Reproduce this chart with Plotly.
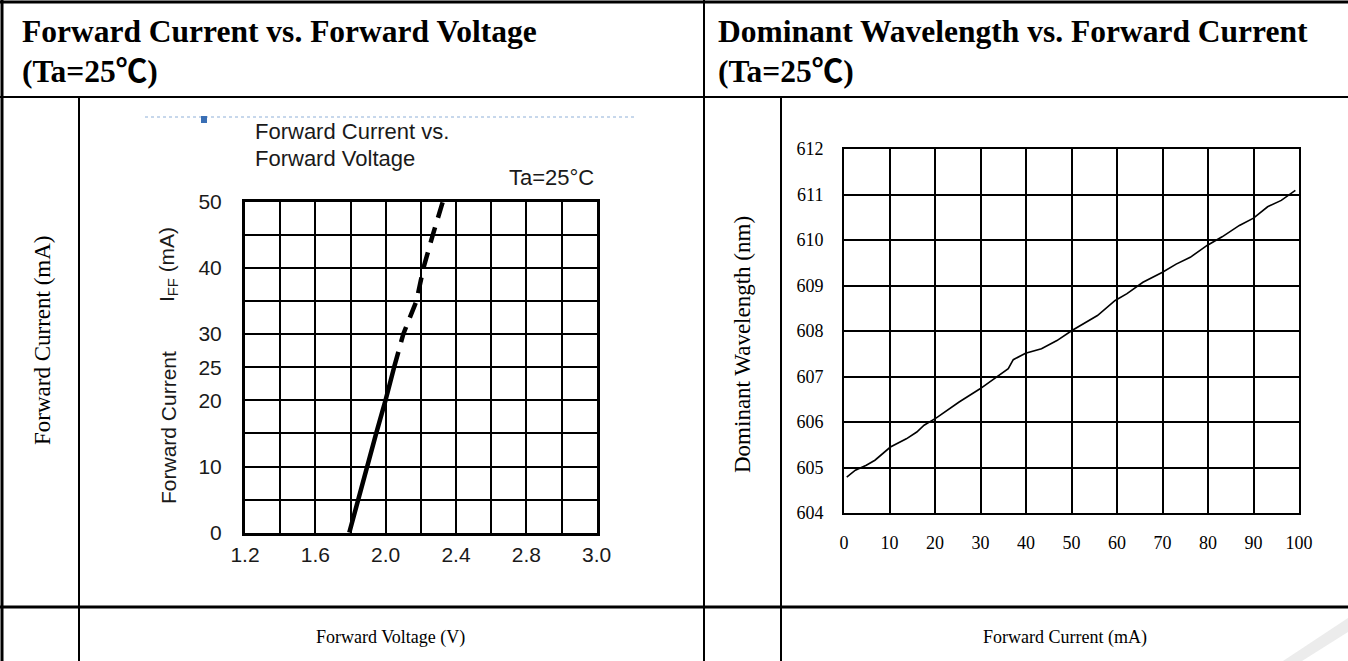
import plotly.graph_objects as go

W, H = 1348, 661

# ---------------- data ----------------
# Left chart: Forward Current vs Forward Voltage
iv_voltage_solid = [1.793, 1.842, 1.892, 1.946, 1.999, 2.048]
iv_current_solid = [0, 5, 10, 15, 20, 25]
iv_voltage_dashed = [2.048, 2.10, 2.175, 2.215, 2.268, 2.325]
iv_current_dashed = [25, 30, 35, 40, 45, 50]

iv_x_tickvals = [1.2, 1.6, 2.0, 2.4, 2.8, 3.2]
iv_x_ticktext = ["1.2", "1.6", "2.0", "2.4", "2.8", "3.0"]
iv_x_grid_step = 0.2
iv_y_tickvals = [0, 10, 20, 25, 30, 40, 50]
iv_y_grid_step = 5

# Right chart: Dominant Wavelength vs Forward Current
wl_current = [0.6, 2.5, 4.9, 6.8, 10.2, 13.7, 16.0, 17.6, 20.3, 25.3, 29.9,
              33.7, 36.1, 37.2, 39.9, 43.4, 46.8, 50.1, 53.0, 55.7, 59.6,
              62.2, 65.7, 70.0, 73.0, 76.1, 79.8, 83.1, 86.9, 90.0, 93.1,
              96.1, 99.2]
wl_nm = [604.79, 604.94, 605.05, 605.16, 605.45, 605.63, 605.78, 605.93,
         606.09, 606.44, 606.73, 606.99, 607.17, 607.37, 607.51, 607.61,
         607.79, 608.01, 608.19, 608.34, 608.67, 608.82, 609.07, 609.29,
         609.47, 609.62, 609.88, 610.07, 610.32, 610.48, 610.73, 610.87,
         611.09]
wl_x_tickvals = [0, 10, 20, 30, 40, 50, 60, 70, 80, 90, 100]
wl_y_tickvals = [604, 605, 606, 607, 608, 609, 610, 611, 612]

# texts
head_left = ["Forward Current vs. Forward Voltage", "(Ta=25℃)"]
head_right = ["Dominant Wavelength vs. Forward Current", "(Ta=25℃)"]
side_left = "Forward Current (mA)"
side_right = "Dominant Wavelength (nm)"
foot_left = "Forward Voltage (V)"
foot_right = "Forward Current (mA)"
inner_title = ["Forward Current vs.", "Forward Voltage"]
inner_temp = "Ta=25°C"
inner_ytitle = ["Forward Current", "I<sub>FF</sub> (mA)"]


def px(x):
    return x / W


def py(y):
    return 1 - y / H


SERIF = "Liberation Serif, Times New Roman, Noto Sans CJK SC, serif"
SANS = "Liberation Sans, Arial, sans-serif"

fig = go.Figure()

fig.add_trace(go.Scatter(x=iv_voltage_solid, y=iv_current_solid, mode="lines",
                         line=dict(color="black", width=4.5),
                         xaxis="x", yaxis="y", hoverinfo="skip"))
fig.add_trace(go.Scatter(x=iv_voltage_dashed, y=iv_current_dashed, mode="lines",
                         line=dict(color="black", width=4.5, dash="16px,10px"),
                         xaxis="x", yaxis="y", hoverinfo="skip"))
fig.add_trace(go.Scatter(x=wl_current, y=wl_nm, mode="lines",
                         line=dict(color="black", width=1.6),
                         xaxis="x2", yaxis="y2", hoverinfo="skip"))

left_dom_x = [px(245), px(596.7)]
left_dom_y = [py(532.7), py(201.7)]
right_dom_x = [px(844), px(1299)]
right_dom_y = [py(513), py(149)]

LGRID = dict(showgrid=True, gridcolor="black", gridwidth=2.4)
RGRID = dict(showgrid=True, gridcolor="black", gridwidth=1.7)

fig.update_layout(
    width=W, height=H,
    margin=dict(l=0, r=0, t=0, b=0, pad=0, autoexpand=False),
    paper_bgcolor="white", plot_bgcolor="white", showlegend=False,
    xaxis=dict(domain=left_dom_x, range=[1.2, 3.2], anchor="y",
               tickvals=iv_x_tickvals, ticktext=iv_x_ticktext, **LGRID,
               minor=dict(tick0=iv_x_tickvals[0], dtick=iv_x_grid_step,
                          ticks="", **LGRID),
               showline=True, linecolor="black", linewidth=3, mirror=True,
               zeroline=False, ticks="outside", ticklen=1,
               tickcolor="rgba(0,0,0,0)", automargin=False,
               tickfont=dict(family=SANS, size=21, color="#1a1a1a")),
    yaxis=dict(domain=left_dom_y, range=[0, 50], anchor="x",
               tickvals=iv_y_tickvals, **LGRID,
               minor=dict(tick0=0, dtick=iv_y_grid_step, ticks="", **LGRID),
               showline=True, linecolor="black", linewidth=3, mirror=True,
               zeroline=False, ticks="outside", ticklen=16,
               tickcolor="rgba(0,0,0,0)", automargin=False,
               tickfont=dict(family=SANS, size=21, color="#1a1a1a")),
    xaxis2=dict(domain=right_dom_x, range=[0, 100], anchor="y2",
                tickvals=wl_x_tickvals, **RGRID,
                showline=True, linecolor="black", linewidth=2, mirror=True,
                zeroline=False, ticks="outside", ticklen=12,
                tickcolor="rgba(0,0,0,0)", automargin=False,
                tickfont=dict(family=SERIF, size=18, color="black")),
    yaxis2=dict(domain=right_dom_y, range=[604, 612], anchor="x2",
                tickvals=wl_y_tickvals, **RGRID,
                showline=True, linecolor="black", linewidth=2, mirror=True,
                zeroline=False, ticks="outside", ticklen=15,
                tickcolor="rgba(0,0,0,0)", automargin=False,
                tickfont=dict(family=SERIF, size=18, color="black")),
)

# ---------------- table lines ----------------
shapes = []


def hline(y, x0, x1, w=2):
    shapes.append(dict(type="line", xref="paper", yref="paper",
                       x0=px(x0), x1=px(x1), y0=py(y), y1=py(y),
                       line=dict(color="black", width=w)))


def vline(x, y0, y1, w=2):
    shapes.append(dict(type="line", xref="paper", yref="paper",
                       x0=px(x), x1=px(x), y0=py(y0), y1=py(y1),
                       line=dict(color="black", width=w)))


hline(2, 0, W, 3)
hline(97, 0, W, 2)
hline(607, 0, W, 3)
vline(2, 0, H, 3)
vline(704, 0, H, 2)
vline(79, 97, H, 2)
vline(781, 97, H, 2)

# decorative dotted blue rule and marker at top of inner picture
shapes.append(dict(type="line", xref="paper", yref="paper",
                   x0=px(145), x1=px(637), y0=py(117), y1=py(117),
                   line=dict(color="#8fb0d8", width=1, dash="dot")))
shapes.append(dict(type="rect", xref="paper", yref="paper",
                   x0=px(201), x1=px(207), y0=py(123), y1=py(116),
                   fillcolor="#3a6fb5", line=dict(width=0)))
# faint watermark stripe bottom-right
shapes.append(dict(type="path", xref="paper", yref="paper",
                   path=f"M {px(1283)} {py(661)} L {px(1348)} {py(618)} "
                        f"L {px(1348)} {py(632)} L {px(1302)} {py(661)} Z",
                   fillcolor="#ececec", line=dict(width=0)))
fig.update_layout(shapes=shapes)

# ---------------- texts ----------------
ann = []


def text(t, x, y, size, family, xanchor="left", angle=0, bold=False,
         color="black"):
    if bold:
        t = f"<b>{t}</b>"
    ann.append(dict(text=t, x=px(x), y=py(y), xref="paper", yref="paper",
                    xanchor=xanchor, yanchor="middle", showarrow=False,
                    textangle=angle,
                    font=dict(family=family, size=size, color=color)))


text(head_left[0], 20, 31, 31.5, SERIF, bold=True)
text(head_left[1], 20, 72, 31.5, SERIF, bold=True)
text(head_right[0], 716, 31, 31.5, SERIF, bold=True)
text(head_right[1], 716, 72, 31.5, SERIF, bold=True)

text(side_left, 42, 340, 23, SERIF, xanchor="center", angle=-90)
text(side_right, 742, 345, 23, SERIF, xanchor="center", angle=-90)

text(foot_left, 390, 637, 18, SERIF, xanchor="center")
text(foot_right, 1065, 637, 18, SERIF, xanchor="center")

text(inner_title[0], 253, 132, 22, SANS, color="#1a1a1a")
text(inner_title[1], 253, 158, 22, SANS, color="#1a1a1a")
text(inner_temp, 596, 178, 22, SANS, xanchor="right", color="#1a1a1a")
text(inner_ytitle[0], 168, 428, 21, SANS, xanchor="center", angle=-90,
     color="#1a1a1a")
text(inner_ytitle[1], 168, 265, 21, SANS, xanchor="center", angle=-90,
     color="#1a1a1a")

fig.update_layout(annotations=ann)

fig.write_html("out.html")
